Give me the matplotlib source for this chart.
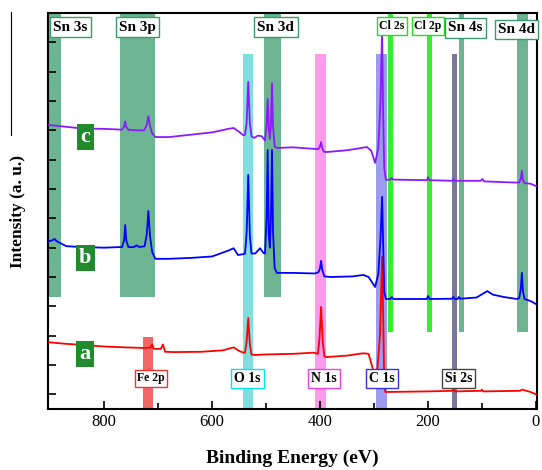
import matplotlib
matplotlib.use('Agg')
from matplotlib import pyplot as plt
from matplotlib.lines import Line2D

# spectra: (binding energy eV, intensity a.u.)
energy_c = [905, 890, 870, 840, 800, 775, 767, 763, 761, 759, 755, 740, 726, 721, 718, 715, 711,
            705, 680, 640, 600, 570, 560, 550, 542, 539, 536, 533, 530, 527, 522, 515, 508, 502,
            499, 497, 495, 493, 491, 489, 487, 484, 480, 450, 420, 403, 400, 398, 396, 393, 388,
            350, 313, 305, 298, 292, 288, 285, 283, 281, 278, 270, 267, 264, 202, 200, 197, 155,
            153, 150, 102, 99, 96, 40, 31, 28, 26, 24, 21, 10, 0]
int_c = [9.68, 9.66, 9.62, 9.56, 9.55, 9.53, 9.52, 9.62, 9.80, 9.62, 9.52, 9.50, 9.50, 9.68, 9.98,
         9.65, 9.40, 9.27, 9.27, 9.35, 9.43, 9.55, 9.58, 9.45, 9.33, 9.35, 9.75, 11.15, 9.75, 9.30,
         9.24, 9.32, 9.30, 9.15, 9.70, 10.57, 9.60, 9.20, 9.70, 11.11, 9.60, 8.95, 8.90, 8.92, 8.88,
         8.86, 8.95, 9.10, 8.90, 8.77, 8.76, 8.82, 8.93, 8.80, 8.39, 8.90, 10.50, 12.95, 10.00, 8.20,
         7.81, 7.82, 7.88, 7.82, 7.80, 7.90, 7.80, 7.78, 7.83, 7.78, 7.78, 7.84, 7.76, 7.72, 7.72,
         7.85, 8.12, 7.80, 7.70, 7.68, 7.60]

energy_b = [905, 895, 892, 888, 870, 840, 800, 770, 767, 763, 761, 759, 755, 745, 740, 735, 725,
            721, 718, 715, 711, 705, 680, 640, 600, 570, 560, 552, 542, 539, 536, 533, 530, 527,
            520, 511, 505, 502, 499, 497, 495, 493, 491, 489, 487, 484, 480, 450, 410, 403, 400,
            398, 396, 392, 380, 340, 320, 310, 298, 292, 288, 285, 283, 281, 278, 270, 267, 264,
            202, 200, 197, 155, 153, 150, 145, 143, 140, 110, 90, 80, 60, 35, 31, 28, 26, 24, 21,
            10, 0]
int_b = [5.70, 5.76, 5.80, 5.72, 5.55, 5.52, 5.50, 5.52, 5.52, 5.75, 6.27, 5.75, 5.52, 5.52, 5.58,
         5.52, 5.55, 5.95, 6.75, 5.90, 5.35, 5.12, 5.12, 5.15, 5.20, 5.40, 5.48, 5.25, 5.28, 5.30,
         6.00, 7.98, 5.90, 5.30, 5.30, 5.48, 5.32, 5.30, 6.50, 8.83, 6.00, 5.50, 6.50, 8.83, 6.00,
         4.80, 4.64, 4.64, 4.62, 4.66, 4.80, 5.05, 4.75, 4.52, 4.50, 4.52, 4.57, 4.50, 4.16, 4.60,
         5.80, 7.23, 5.60, 4.00, 3.75, 3.75, 3.82, 3.75, 3.75, 3.85, 3.75, 3.76, 3.82, 3.75, 3.75,
         3.82, 3.76, 3.80, 4.02, 3.90, 3.82, 3.75, 3.78, 4.10, 4.64, 4.00, 3.75, 3.68, 3.58]

energy_a = [905, 870, 835, 800, 760, 725, 714, 711, 708, 695, 691, 687, 670, 620, 580, 560, 550,
            542, 539, 536, 533, 530, 527, 522, 500, 450, 412, 404, 401, 398, 395, 392, 388, 350,
            320, 310, 300, 294, 289, 285, 283, 281, 279, 200, 155, 153, 150, 102, 100, 98, 30, 25,
            10, 0]
int_a = [2.28, 2.22, 2.18, 2.13, 2.10, 2.08, 2.10, 2.20, 2.05, 2.05, 2.20, 1.95, 1.94, 1.95, 2.00,
         2.10, 1.98, 1.92, 1.92, 2.30, 3.10, 2.20, 1.86, 1.84, 1.86, 1.88, 1.92, 1.88, 2.40, 3.48,
         2.30, 1.80, 1.77, 1.82, 1.90, 1.88, 1.23, 1.30, 2.50, 5.20, 3.20, 0.90, 0.58, 0.60, 0.62,
         0.66, 0.60, 0.62, 0.66, 0.60, 0.62, 0.66, 0.58, 0.50]

# marker bands: label, low eV, high eV
band_names = ['Sn 3s', 'Sn 3p', 'Sn 3d', 'Cl 2s', 'Cl 2p', 'Sn 4s', 'Sn 4d',
              'Fe 2p', 'O 1s', 'N 1s', 'C 1s', 'Si 2s']
band_lo = [880, 705, 472, 265, 193, 133, 15, 709, 524, 389, 276, 146]
band_hi = [905, 770, 504, 274, 202, 143, 35, 728, 543, 409, 296, 156]

# layout / style for the bands and their tags
band_y = [(3.82, 13.5), (3.82, 13.5), (3.82, 13.5), (2.63, 13.5), (2.63, 13.5), (2.63, 13.5),
          (2.63, 13.5), (0, 2.45), (0, 12.1), (0, 12.1), (0, 12.1), (0, 12.1)]
band_col = ['#6db592', '#6db592', '#6db592', '#33ee33', '#33ee33', '#6db592', '#6db592',
            '#f26666', '#80dede', '#ff99ee', '#9c9cee', '#78789e']
tag_edge = ['#3a9a6a', '#3a9a6a', '#3a9a6a', '#22dd22', '#22dd22', '#3a9a6a', '#3a9a6a',
            '#ee3333', '#00e5ee', '#ee44dd', '#3333dd', '#444444']
tag_x = [863, 738, 482, 267, 200, 131, 36, 713, 534, 393, 285, 143.5]
tag_y = [13.02, 13.02, 13.02, 13.06, 13.06, 12.99, 12.94, 1.04, 1.04, 1.04, 1.04, 1.04]
tag_size = [11, 11, 11, 8.5, 8.5, 11, 11, 8.5, 10, 10, 10, 10]

fig = plt.figure(figsize=(5.42, 4.70), dpi=100)
ax = fig.add_axes([48 / 542, 61 / 470, 489 / 542, 396 / 470])
plt.rcParams['font.family'] = 'Liberation Serif'

for lo, hi, (y0, y1), col in zip(band_lo, band_hi, band_y, band_col):
    ax.fill_between([lo, hi], [y0, y0], [y1, y1], color=col, lw=0, zorder=1)

ax.plot(energy_a, int_a, color='#ff0000', lw=1.3, zorder=3)
ax.plot(energy_b, int_b, color='#0000ff', lw=1.3, zorder=3)
ax.plot(energy_c, int_c, color='#8a1bff', lw=1.3, zorder=3)

for name, x, y, ec, fs in zip(band_names, tag_x, tag_y, tag_edge, tag_size):
    ax.text(x, y, name, ha='center', va='center', fontsize=fs, fontweight='bold',
            family='Liberation Serif', zorder=5,
            bbox=dict(boxstyle='square,pad=0.22', fc='white', ec=ec, lw=1))

for letter, y in zip(['a', 'b', 'c'], [1.88, 5.15, 9.27]):
    ax.text(835, y, letter, ha='center', va='center', fontsize=16, fontweight='bold',
            color='white', family='Liberation Serif', zorder=5,
            bbox=dict(boxstyle='square,pad=0.15', fc='#1f8b2c', ec='none'))

ax.set_xlim(904, -2)
ax.set_ylim(0, 13.5)
ax.set_xticks([800, 600, 400, 200, 0])
ax.set_xticks([700, 500, 300, 100], minor=True)
ax.set_yticks([0.5 + k for k in range(13)])
ax.set_yticklabels([])
ax.tick_params(axis='both', direction='in', length=6, width=1.2, labelsize=12)
ax.tick_params(axis='x', which='minor', direction='in', length=4, width=1.2)
for lab in ax.get_xticklabels():
    lab.set_family('Liberation Serif')
for sp in ax.spines.values():
    sp.set_linewidth(1.5)

ax.set_xlabel('Binding Energy (eV)', fontsize=14, fontweight='bold',
              family='Liberation Serif', labelpad=14)
ax.set_ylabel('Intensity (a. u.)', fontsize=12.5, fontweight='bold',
              family='Liberation Serif', labelpad=12)

fig.add_artist(Line2D([11 / 542, 11 / 542], [1 - 12 / 470, 1 - 135 / 470], color='black', lw=0.8))

fig.savefig('out.png', dpi=100)
